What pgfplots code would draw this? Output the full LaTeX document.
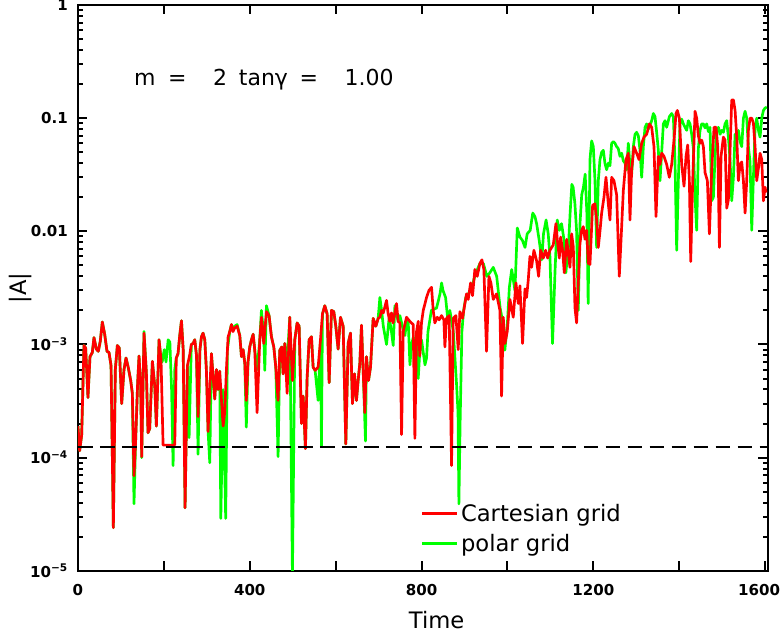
\documentclass[border=0pt]{standalone}
\usepackage{fontspec}
\setmainfont{DejaVu Sans}
\usepackage{pgfplots}
\pgfplotsset{compat=1.18}
\definecolor{cartred}{RGB}{255,0,0}
\definecolor{polgreen}{RGB}{0,255,0}

\begin{document}
\begin{tikzpicture}
\begin{axis}[
    name=ax,
    scale only axis, width=517.5pt, height=424.5pt,
    ymode=log, xmin=0, xmax=1606, ymin=1e-5, ymax=1,
    axis line style={line width=1.5pt},
    every tick/.append style={line width=1.5pt, draw=black},
    major tick length=7pt, minor tick length=3.5pt,
    xtick={0,200,...,1600},
    xticklabels={0,,400,,800,,1200,,\hspace*{-9pt}1600},
    ytick={1e-5,1e-4,1e-3,1e-2,1e-1,1},
    yticklabels={10\textsuperscript{−5},10\textsuperscript{−4},10\textsuperscript{−3},0.01,0.1,1},
    minor ytick={2e-5,3e-5,4e-5,5e-5,6e-5,7e-5,8e-5,9e-5,
                 2e-4,3e-4,4e-4,5e-4,6e-4,7e-4,8e-4,9e-4,
                 2e-3,3e-3,4e-3,5e-3,6e-3,7e-3,8e-3,9e-3,
                 0.02,0.03,0.04,0.05,0.06,0.07,0.08,0.09,
                 0.2,0.3,0.4,0.5,0.6,0.7,0.8,0.9},
    tick label style={font=\fontsize{11.3}{13}\selectfont\bfseries},
    xticklabel style={yshift=-6.5pt},
    yticklabel style={xshift=-4pt},
    xlabel={Time}, ylabel={|A|},
    label style={font=\fontsize{17}{20}\selectfont},
    xlabel style={at={(axis description cs:0.52,-0.0866)}, anchor=center},
    ylabel style={at={(axis description cs:-0.084,0.5)}, anchor=center},
    legend cell align=left,
    legend style={draw=none, fill=none, inner sep=0pt,
        at={(0.497,0.026)}, anchor=south west,
        font=\fontsize{17}{20}\selectfont, row sep=4pt},
    legend image code/.code={\draw[#1] (0pt,0pt) -- (26pt,0pt);},
    every axis plot/.append style={line width=2pt, line join=round},
]

% polar grid, drawn first so the red curve lies on top
\addplot[polgreen, forget plot] table {
t A
0 1.9e-4
3.9 1.15e-4
8.6 1.58e-4
14 9.8e-4
17.9 9.3e-4
23.3 3.4e-4
28 7.8e-4
33.4 8.5e-4
37.3 1.15e-3
42.8 9.1e-4
47.4 8.7e-4
52 1.07e-3
56.7 1.58e-3
62.2 1.23e-3
67.6 8.7e-4
72.3 8.5e-4
77 6.5e-4
82.4 2.4e-5
87 6.0e-4
91.7 9.8e-4
96.3 9.3e-4
101.8 3.0e-4
107.2 6.0e-4
111.9 7.6e-4
117.3 6.2e-4
122.8 4.8e-4
126.6 3.7e-4
130.5 3.9e-5
134.4 1.45e-4
139 4.6e-4
142.2 7.9e-4
146 4.3e-4
148.4 1.0e-4
153.8 1.3e-3
159.3 5.6e-4
163.1 1.66e-4
167 1.8e-4
173.3 7.1e-4
178.8 4.3e-4
182.6 1.9e-4
188.8 1.1e-3
193.4 7.4e-4
196 7.0e-4
201 9.0e-4
205 7.0e-4
210 1.1e-3
214 1.05e-3
218 4.0e-4
221.5 8.5e-5
225.4 6.0e-4
229 7.6e-4
233 8.3e-4
237 1.2e-3
241 1.62e-3
245 9.0e-4
249.4 3.6e-5
254.8 6.5e-4
258.8 1.5e-4
264 1.0e-3
268 1.02e-3
272 1.1e-3
276 8.0e-4
279.7 1.07e-4
284 9.0e-4
287.5 1.17e-3
291.3 1.26e-3
295.3 1.1e-3
299 6.0e-4
303 1.7e-4
306.9 9.0e-5
310.8 8.3e-4
314.7 5.2e-4
318.5 3.3e-4
322.4 6.0e-4
326.3 4.0e-4
330 5.8e-4
332.6 2.9e-5
338 4.0e-4
344 2.9e-5
348 9.0e-4
353.5 1.3e-3
357.4 1.5e-3
361 1.35e-3
365 1.45e-3
370.6 1.5e-3
376.8 1.2e-3
380.7 7.8e-4
384.6 9.0e-4
388.5 6.8e-4
392 1.86e-4
396 7.0e-4
400 9.5e-4
404 1.1e-3
407.9 1.23e-3
411.7 8.9e-4
417.1 6.0e-4
423.3 1.1e-3
427.2 2.0e-3
432.6 1.2e-3
435 5.9e-4
438.8 2.2e-3
445 1.8e-3
450.5 1.17e-3
456 9.5e-4
460.6 6.3e-4
466 1.02e-4
470 8.9e-4
474.6 9.5e-4
477.7 5.5e-4
481.6 1.02e-3
487 6.8e-4
493.2 1.74e-3
499.4 9.0e-6
504.9 1.1e-3
510.3 1.55e-3
515 1.45e-3
520.4 2.0e-4
524.3 3.5e-4
529.7 1.2e-4
533.6 5.1e-4
538.3 1.1e-3
543.7 1.17e-3
547.6 6.3e-4
552.2 5.9e-4
559.2 3.2e-4
564.7 1.1e-3
567 1.26e-4
569.3 1.86e-3
574.8 2.2e-3
580.2 1.86e-3
584.9 4.6e-4
590.3 2.0e-3
595.7 1.95e-3
600.4 1.45e-3
605.8 9.1e-4
611.3 1.74e-3
617.5 1.45e-3
623.7 1.32e-4
629.1 1.02e-3
634.6 1.26e-3
639.2 3.0e-4
643.9 5.5e-4
648.5 3.2e-4
652.4 4.8e-4
656.3 6.8e-4
660.2 1.48e-3
664.1 5.9e-4
669.5 1.4e-4
671.8 7.8e-4
676.5 4.8e-4
681.2 6.3e-4
687.4 1.7e-3
693.6 1.45e-3
699 1.7e-3
703 2.6e-3
707 2.0e-3
711 1.45e-3
718.5 1.0e-3
724.7 1.74e-3
730 1.3e-3
734 9.8e-4
738 2.2e-3
745.6 1.6e-3
749.6 1.8e-3
757.4 1.35e-3
761.3 1.2e-3
765 1.55e-3
769 1.6e-3
773 6.6e-4
776.8 1.0e-3
780.6 1.15e-3
784.5 1.0e-3
788.4 1.3e-3
792.3 5.0e-4
796 8.7e-4
800 1.1e-3
808 6.6e-4
811.7 7.6e-4
815 1.3e-3
823 2.0e-3
835 2.1e-3
843 2.8e-3
846.7 3.5e-3
850 3.0e-3
856 2.6e-3
862 1.55e-3
866 2.0e-3
874 1.3e-3
881.6 4.4e-4
885 2.5e-4
887 3.9e-5
890 2.2e-4
894 1.3e-3
898 2.0e-3
903 2.6e-3
909 2.8e-3
917 3.2e-3
924 4.0e-3
932 4.8e-3
936 5.2e-3
944 5.2e-3
952 4.0e-3
959 4.3e-3
967 4.8e-3
975 4.0e-3
983 2.1e-3
987 1.74e-3
990 1.02e-3
994 8.9e-4
1000 1.55e-3
1004.5 3.2e-3
1010 4.6e-3
1017.5 3.0e-3
1023 1.07e-2
1029 8.9e-3
1035 8.3e-3
1041 7.2e-3
1046 9.5e-3
1053 1.02e-2
1059 1.45e-2
1064 1.35e-2
1068 1.17e-2
1074 8.3e-3
1080 5.6e-3
1084 9.5e-3
1090 1.26e-2
1095 9.5e-3
1099 6.0e-3
1105 1.02e-3
1111 4.6e-3
1116 1.26e-2
1121 1.02e-2
1126 1.17e-2
1132 8.3e-3
1136 4.3e-3
1142 7.2e-3
1146 1.45e-2
1150 2.6e-2
1153 2.45e-2
1157 1.78e-2
1161 1.02e-2
1165 2.0e-3
1169 1.17e-2
1173 2.1e-2
1177 2.45e-2
1181 3.2e-2
1185 1.45e-2
1188 2.3e-3
1192.2 4.3e-2
1196.1 6.3e-2
1200 5.6e-2
1203.9 2.8e-2
1207.7 7.2e-3
1211.6 2.8e-2
1215.5 4.3e-2
1219.4 5.0e-2
1223.3 5.2e-2
1227.1 4.0e-2
1231 3.5e-2
1235 4.0e-2
1238.8 3.8e-2
1242.7 6.0e-2
1246.6 6.2e-2
1250.5 6.0e-2
1254.3 5.6e-2
1258 5.4e-2
1262.1 4.6e-2
1266 4.9e-2
1269.9 4.2e-2
1273.8 4.0e-2
1277.6 3.5e-2
1281.5 6.0e-2
1285.4 3.8e-2
1289.3 3.2e-2
1293.2 5.6e-2
1297.1 7.2e-2
1300.9 7.5e-2
1304.8 7.0e-2
1308.7 5.2e-2
1312.6 3.0e-2
1316.5 5.6e-2
1320.4 8.3e-2
1324.2 8.9e-2
1328 8.0e-2
1332 8.7e-2
1335.9 9.5e-2
1339.8 1.1e-1
1343.7 1.03e-1
1347.5 7.5e-2
1351.4 5.2e-2
1355.3 2.8e-2
1359.2 5.0e-2
1363.1 8.9e-2
1367 9.5e-2
1370.8 8.3e-2
1377 1.03e-1
1382.5 1.1e-1
1386.4 1.03e-1
1390.3 4.0e-2
1394.1 6.8e-3
1398 2.8e-2
1401.9 8.9e-2
1405.8 9.8e-2
1409.7 8.9e-2
1413.6 8.3e-2
1417.4 7.8e-2
1421.3 9.5e-2
1425.2 8.9e-2
1429.1 7.2e-2
1433 5.4e-2
1436.9 2.0e-2
1440.7 1.02e-2
1444.6 5.4e-2
1448.5 7.8e-2
1452.4 8.9e-2
1456.3 8.9e-2
1460.2 8.2e-2
1464 8.9e-2
1468 7.6e-2
1471.8 8.3e-2
1475.7 1.86e-2
1479.6 2.0e-2
1483.5 4.6e-2
1487.4 7.8e-2
1491.3 8.3e-2
1495.1 7.2e-2
1499 7.8e-2
1502.9 7.5e-2
1506.8 8.9e-2
1510.6 9.5e-2
1514.5 6.8e-2
1518.4 4.3e-2
1522.3 1.86e-2
1526.2 3.0e-2
1530.1 7.2e-2
1534 6.4e-2
1537.8 7.8e-2
1541.7 6.2e-2
1545.6 5.6e-2
1549.5 1.0e-1
1553.4 1.15e-1
1557.2 1.0e-1
1561.1 5.6e-2
1565 4.1e-2
1568.9 1.02e-2
1572.8 3.0e-2
1576.7 8.3e-2
1580.5 1.0e-1
1584.4 7.8e-2
1588.3 6.8e-2
1592.2 1.0e-1
1596.1 1.17e-1
1600 1.23e-1
1604 1.25e-1
};

% cartesian grid
\addplot[cartred] table {
t A
0 1.9e-4
3.9 1.15e-4
8.6 1.58e-4
14 9.8e-4
17.9 9.3e-4
23.3 3.4e-4
28 7.8e-4
33.4 8.5e-4
37.3 1.15e-3
42.8 9.1e-4
47.4 8.7e-4
52 1.07e-3
56.7 1.58e-3
62.2 1.23e-3
67.6 8.7e-4
72.3 8.5e-4
77 6.5e-4
82.4 2.4e-5
87 6.0e-4
91.7 9.8e-4
96.3 9.3e-4
101.8 3.0e-4
107.2 6.0e-4
111.9 7.6e-4
117.3 6.2e-4
122.8 4.8e-4
126.6 3.7e-4
130.5 6.9e-5
134.4 1.45e-4
139 4.6e-4
142.2 7.9e-4
146 4.3e-4
148.4 1.02e-4
153.8 1.26e-3
159.3 5.6e-4
163.1 1.66e-4
167 1.8e-4
173.3 7.1e-4
178.8 4.3e-4
182.6 1.9e-4
188.8 1.1e-3
193.4 7.4e-4
198.2 1.29e-4
225.4 1.29e-4
229 7.6e-4
233 8.3e-4
237 1.2e-3
241 1.62e-3
245 9.0e-4
249.4 3.6e-5
254.8 6.5e-4
260 8.0e-4
264 1.0e-3
268 1.02e-3
272 1.1e-3
276 8.0e-4
279.7 2.3e-4
284 9.0e-4
287.5 1.17e-3
291.3 1.26e-3
295.3 1.1e-3
299 6.0e-4
303 1.7e-4
306.9 4.0e-4
310.8 8.3e-4
314.7 5.2e-4
318.5 3.3e-4
322.4 6.0e-4
326.3 4.0e-4
330 5.8e-4
334 3.3e-4
338 1.9e-4
341.8 2.5e-4
345.7 6.0e-4
349.6 1.17e-3
353.5 1.3e-3
357.4 1.5e-3
361 1.3e-3
365 1.4e-3
370.6 1.45e-3
376.8 1.2e-3
380.7 7.8e-4
384.6 9.0e-4
388.5 6.8e-4
392 3.2e-4
396 7.0e-4
400 9.5e-4
404 1.1e-3
407.9 1.23e-3
411.7 8.9e-4
417.1 2.5e-4
423.3 1.1e-3
427.2 1.74e-3
432.6 1.02e-3
438.8 1.95e-3
445 1.8e-3
450.5 1.17e-3
456 9.5e-4
460.6 6.3e-4
466 3.2e-4
470 8.9e-4
474.6 9.5e-4
477.7 5.5e-4
481.6 1.02e-3
487 3.7e-4
493.2 1.74e-3
499.4 4.8e-4
504.9 1.1e-3
510.3 1.55e-3
515 1.45e-3
520.4 2.0e-4
524.3 3.5e-4
529.7 1.2e-4
533.6 5.1e-4
538.3 1.1e-3
543.7 1.17e-3
547.6 6.3e-4
552.2 5.9e-4
559.2 6.3e-4
564.7 1.1e-3
569.3 1.86e-3
574.8 2.2e-3
580.2 1.86e-3
584.9 4.6e-4
590.3 2.0e-3
595.7 1.95e-3
600.4 1.45e-3
605.8 9.1e-4
611.3 1.74e-3
617.5 1.45e-3
623.7 1.32e-4
629.1 1.02e-3
634.6 1.26e-3
639.2 3.0e-4
643.9 5.5e-4
648.5 3.2e-4
652.4 4.8e-4
656.3 6.8e-4
660.2 1.48e-3
664.1 5.9e-4
668 2.5e-4
671.8 7.8e-4
676.5 4.8e-4
681.2 6.3e-4
687.4 1.7e-3
693.6 1.45e-3
699 1.7e-3
703 1.74e-3
707 2.0e-3
711 1.9e-3
718.5 2.45e-3
722 1.9e-3
726 1.6e-3
730 1.9e-3
733.5 1.55e-3
741.8 2.3e-3
745.6 1.6e-3
749.6 1.55e-3
753.5 1.6e-4
757.4 1.3e-3
765 1.74e-3
772.8 1.6e-3
780.6 1.5e-3
784.5 1.48e-4
788.4 1.3e-3
792.3 1.6e-3
796 7.9e-4
799.9 1.55e-3
804 2.0e-3
811.7 2.6e-3
817.2 3.0e-3
823.3 3.2e-3
827.2 2.0e-3
831 1.55e-3
836.5 1.74e-3
841.1 1.65e-3
846.6 1.8e-3
852 1.65e-3
854.4 9.5e-4
858.2 1.7e-3
864.4 1.8e-3
869.9 8.5e-5
873.8 1.7e-3
880 1.8e-3
885.4 9.0e-4
889.3 1.95e-3
895.5 1.7e-3
901 2.3e-3
904.8 2.8e-3
908.7 2.5e-3
914.2 3.5e-3
918.8 2.7e-3
924.2 4.6e-3
929.7 4.0e-3
935.9 5.2e-3
940.6 5.6e-3
945.2 4.6e-3
951.4 8.7e-4
956.9 4.0e-3
961.5 3.5e-3
967 2.5e-3
974.7 2.8e-3
982.5 2.0e-3
986.4 3.5e-4
990.3 1.74e-3
994.2 1.02e-3
999.6 1.3e-3
1005.8 2.5e-3
1013.6 1.74e-3
1019.8 3.5e-3
1025.2 2.3e-3
1029.1 3.3e-3
1035.3 1.02e-3
1040.8 3.1e-3
1044.6 2.6e-3
1048.5 3.7e-3
1052.4 6.0e-3
1056.3 4.8e-3
1061.7 6.8e-3
1067.9 5.5e-3
1072.6 4.0e-3
1077.3 6.8e-3
1083.5 5.8e-3
1088.9 6.8e-3
1093.6 5.8e-3
1099 6.8e-3
1106.8 7.6e-3
1113 1.17e-2
1116.1 8.5e-3
1120.8 5.8e-3
1123.9 8.9e-3
1128.5 6.8e-3
1132.4 4.3e-3
1137.9 8.5e-3
1145.6 4.8e-3
1149.5 9.5e-3
1153.4 7.3e-3
1157.3 2.1e-3
1161.1 1.55e-3
1165 3.5e-3
1168.9 7.8e-3
1172.8 1.02e-2
1176.7 1.1e-2
1180.6 8.5e-3
1184.5 1.02e-2
1188.3 5.2e-3
1192.2 5.1e-3
1198.4 1.7e-2
1203.9 1.75e-2
1207.7 1.26e-2
1211.6 7.2e-3
1215.5 1.0e-2
1219.4 1.45e-2
1224.8 2.0e-2
1229.5 3.0e-2
1234.9 1.75e-2
1238.8 1.26e-2
1242.7 3.0e-2
1248.1 2.8e-2
1254.3 2.1e-2
1260.5 4.0e-3
1266 1.1e-2
1269.9 2.3e-2
1276.1 4.3e-2
1281.5 4.9e-2
1285.4 1.26e-2
1289.3 3.5e-2
1294.7 5.6e-2
1300.9 4.9e-2
1306.4 4.3e-2
1312.6 6.0e-2
1318 6.8e-2
1324.2 7.2e-2
1330.5 8.9e-2
1335.9 8.3e-2
1341.3 5.6e-2
1346 1.35e-2
1351.4 4.6e-2
1355.3 3.9e-2
1359.2 4.9e-2
1364.6 4.6e-2
1370.8 3.9e-2
1377 3.0e-2
1382.5 3.9e-2
1387.9 6.4e-2
1392.6 1.1e-1
1395.7 1.17e-1
1400.4 1.0e-1
1405.8 3.9e-2
1411.2 2.5e-2
1415.9 4.6e-2
1419.8 5.8e-2
1423.7 2.8e-2
1426.8 5.4e-3
1431.4 2.8e-2
1436.9 1.15e-1
1440.7 1.0e-1
1444.6 7.0e-2
1448.5 6.0e-2
1452.4 6.4e-2
1456.3 5.6e-2
1460.2 3.3e-2
1465.6 2.8e-2
1470.3 9.5e-3
1475.7 3.5e-2
1481.1 8.3e-2
1485.8 8.3e-2
1489.7 5.6e-2
1493.6 7.2e-3
1497.4 4.6e-2
1502.9 6.8e-2
1506.8 6.4e-2
1510.6 1.6e-2
1514.5 1.9e-2
1518.4 5.2e-2
1522.3 1.45e-1
1526.2 1.45e-1
1530.1 1.17e-1
1534 6.8e-2
1537.8 2.8e-2
1541.7 3.9e-2
1545.6 4.1e-2
1549.5 2.8e-2
1553.4 1.45e-2
1557.2 2.8e-2
1561.1 7.8e-2
1565 1.0e-1
1568.9 1.0e-1
1572.8 9.0e-2
1576.7 5.6e-2
1580.5 2.8e-2
1584.4 3.6e-2
1588.3 4.9e-2
1592.2 4.3e-2
1596.1 1.86e-2
1600 2.45e-2
1602.3 2.2e-2
};
\addlegendentry{Cartesian grid}
\addlegendimage{polgreen, line width=2pt}
\addlegendentry{polar grid}

% reference level
\addplot[black, line width=1.5pt, dash pattern=on 11pt off 5.5pt, forget plot]
    coordinates {(0,1.25e-4) (1606,1.25e-4)};

\node[anchor=west, inner sep=0pt, font=\fontsize{16.5}{20}\selectfont]
    at (rel axis cs:0.081,0.8675)
    {m\hspace{9.5pt}=\hspace{20pt}2\hspace{8.75pt}tanγ\hspace{8.75pt}=\hspace{20pt}1.00};
\end{axis}
\pgfresetboundingbox
\path[use as bounding box] ([xshift=-58.5pt,yshift=-45.75pt]ax.south west)
    rectangle ([xshift=10pt,yshift=3.75pt]ax.north east);
\end{tikzpicture}
\end{document}
